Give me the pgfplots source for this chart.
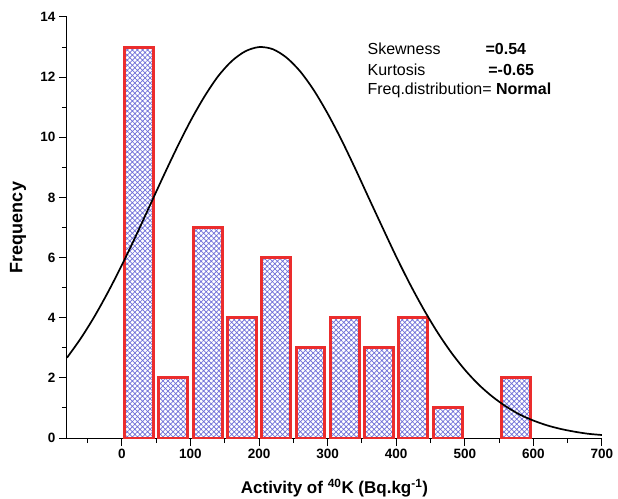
\documentclass[border=0pt]{standalone}
\usepackage{fontspec}
\setmainfont{Liberation Sans}
\usepackage{pgfplots}
\pgfplotsset{compat=1.18}
\usetikzlibrary{patterns.meta}
\definecolor{barred}{RGB}{235,45,45}
\definecolor{hatchblue}{RGB}{110,110,215}
\newcommand{\tl}{\fontsize{13.5}{15}\selectfont\bfseries}
\begin{document}
\begin{tikzpicture}
\useasboundingbox (-67pt,-60pt) rectangle (551pt,438pt);
\begin{axis}[
  at={(0pt,0pt)}, anchor=south west,
  scale only axis, width=535pt, height=421pt,
  xmin=-80, xmax=700, ymin=0, ymax=14,
  axis x line=bottom, axis y line=left,
  axis line style={-, line width=1pt},
  xtick={0,100,...,700}, minor xtick={-50,50,...,650},
  ytick={0,2,...,14}, minor ytick={1,3,...,13},
  tick align=outside, major tick length=8pt, minor tick length=5pt,
  tick style={line width=1pt, black},
  xticklabel={\tl\pgfmathprintnumber[assume math mode=true]{\tick}},
  yticklabel={\tl\pgfmathprintnumber[assume math mode=true]{\tick}},
  xlabel={Activity of \textsuperscript{40}K (Bq.kg\textsuperscript{-1})},
  ylabel={Frequency},
  every axis x label/.style={at={(axis description cs:0.5,-0.119)}, anchor=center, font=\fontsize{17}{19}\selectfont\bfseries},
  every axis y label/.style={at={(axis description cs:-0.0916,0.5)}, rotate=90, anchor=center, font=\fontsize{18}{20}\selectfont\bfseries},
  clip=true,
]
\addplot[ybar, bar shift=0pt, bar width=42, draw=barred, line width=3pt,
  pattern={Hatch[angle=45,distance=3.6pt,line width=0.7pt]}, pattern color=hatchblue]
  coordinates {(25,13) (75,2) (125,7) (175,4) (225,6) (275,3) (325,4) (375,3) (425,4) (475,1) (575,2)};
\addplot[black, line width=1.7pt, smooth] coordinates {
(-80,2.67) (-60,3.31) (-40,4.04) (-20,4.86) (0,5.75) (20,6.70) (40,7.69) (60,8.68) (80,9.64)
(100,10.54) (120,11.34) (140,12.02) (160,12.53) (180,12.86) (200,13.00) (220,12.93) (240,12.65)
(260,12.19) (280,11.56) (300,10.79) (320,9.92) (340,8.97) (360,7.98) (380,7.00) (400,6.03)
(420,5.12) (440,4.28) (460,3.52) (480,2.85) (500,2.27) (520,1.78) (540,1.38) (560,1.05)
(580,0.78) (600,0.58) (620,0.42) (640,0.30) (660,0.21) (680,0.14) (700,0.10)};
\node[anchor=west, font=\fontsize{16}{18}\selectfont, inner sep=0pt] at (axis cs:358,12.94) {Skewness};
\node[anchor=west, font=\fontsize{16}{18}\selectfont\bfseries, inner sep=0pt] at (axis cs:530,12.94) {=0.54};
\node[anchor=west, font=\fontsize{16}{18}\selectfont, inner sep=0pt] at (axis cs:358,12.24) {Kurtosis};
\node[anchor=west, font=\fontsize{16}{18}\selectfont\bfseries, inner sep=0pt] at (axis cs:534,12.24) {=-0.65};
\node[anchor=west, font=\fontsize{16}{18}\selectfont, inner sep=0pt] at (axis cs:358,11.57) {Freq.distribution= \textbf{Normal}};
\end{axis}
\end{tikzpicture}
\end{document}
